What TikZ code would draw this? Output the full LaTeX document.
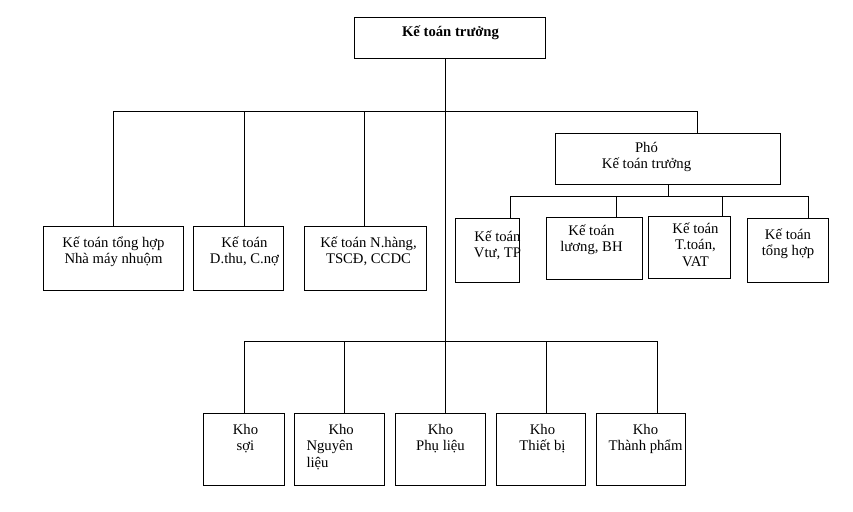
\documentclass[tikz,border=0pt]{standalone}
\usepackage{fontspec}
\setmainfont{Liberation Serif}
\usetikzlibrary{positioning}

\begin{document}
\begin{tikzpicture}[x=1pt,y=-1pt,line width=1pt,
		box/.style 2 args={draw=black,minimum width=#1,minimum height=#2,inner sep=0pt,anchor=north west},
		txt/.style={anchor=base,align=center,inner sep=0pt,font=\fontsize{14.7}{16.7}\selectfont}]
		\useasboundingbox (0,0) rectangle (853,511);
		
		% boxes
		\node[box={191}{41}] (ktt) at (354,17) {};
		\node[box={140}{64}] (nh1) at (43,226) {};
		\node[box={90}{64}] (nh2) at (193,226) {};
		\node[box={122}{64}] (nh3) at (304,226) {};
		\node[box={225}{51}] (pho) at (555,133) {};
		\node[box={64}{64}] (kt1) at (455,218) {};
		\node[box={96}{62}] (kt2) at (546,217) {};
		\node[box={82}{62}] (kt3) at (648,216) {};
		\node[box={81}{64}] (kt4) at (747,218) {};
		\node[box={81}{72}] (kho1) at (203,413) {};
		\node[box={90}{72}] (kho2) at (294,413) {};
		\node[box={90}{72}] (kho3) at (395,413) {};
		\node[box={89}{72}] (kho4) at (496,413) {};
		\node[box={89}{72}] (kho5) at (596,413) {};
		
		% texts (anchor base = last line)
		\node[txt,font=\fontsize{14.7}{16.7}\selectfont\bfseries,shift={(0.5,20)}] (tktt) at (ktt.north) {Kế toán trưởng};
		\node[txt,shift={(0,37.7)}] (tnh1) at (nh1.north) {Kế toán tổng hợp\\Nhà máy nhuộm};
		\node[txt,shift={(6,37.7)}] (tnh2) at (nh2.north) {Kế toán\\D.thu, C.nợ};
		\node[txt,shift={(3,37.7)}] (tnh3) at (nh3.north) {Kế toán N.hàng,\\TSCĐ, CCDC};
		\node[txt,shift={(-21.5,35.7)}] (tpho) at (pho.north) {Phó\\Kế toán trưởng};
		\node[txt,shift={(10,39.7)}] (tkt1) at (kt1.north) {Kế toán\\Vtư, TP};
		\node[txt,shift={(-3,34.7)}] (tkt2) at (kt2.north) {Kế toán\\lương, BH};
		\node[txt,shift={(6,50.4)}] (tkt3) at (kt3.north) {Kế toán\\T.toán,\\VAT};
		\node[txt,shift={(0,37.7)}] (tkt4) at (kt4.north) {Kế toán\\tổng hợp};
		\node[txt,shift={(1.5,37.7)}] (tkho1) at (kho1.north) {Kho\\sợi};
		\node[txt,anchor=base west,align=left,shift={(12,54.4)}] (tkho2) at (kho2.north west) {\hspace*{22pt}Kho\\Nguyên\\liệu};
		\node[txt,shift={(0,37.7)}] (tkho3) at (kho3.north) {Kho\\Phụ liệu};
		\node[txt,shift={(1.5,37.7)}] (tkho4) at (kho4.north) {Kho\\Thiết bị};
		\node[txt,shift={(4.5,37.7)}] (tkho5) at (kho5.north) {Kho\\Thành phẩm};
		
		% trunk
		\coordinate (trunk) at (445,0);
		\draw (ktt.south -| trunk) -- (kho3.north -| trunk);
		
		% first bus
		\foreach \n/\x in {nh1/113,nh2/244,nh3/364,pho/697}
			\coordinate (up-\n) at (\x,111);
		\draw (up-nh1) -- (up-pho);
		\foreach \n in {nh1,nh2,nh3,pho}
			\draw (up-\n) -- (up-\n |- \n.north);
		
		% bus under pho
		\coordinate (jn-pho) at (668,196);
		\draw (pho.south) -- (pho.south |- jn-pho);
		\foreach \n/\x in {kt1/510,kt2/616,kt3/722,kt4/808}
			\coordinate (up-\n) at (\x,196);
		\draw (up-kt1) -- (up-kt4);
		\foreach \n in {kt1,kt2,kt3,kt4}
			\draw (up-\n) -- (up-\n |- \n.north);
		
		% bus over kho
		\foreach \n/\x in {kho1/244,kho2/344,kho3/445,kho4/546,kho5/657}
			\coordinate (up-\n) at (\x,341);
		\draw (up-kho1) -- (up-kho5);
		\foreach \n in {kho1,kho2,kho4,kho5}
			\draw (up-\n) -- (up-\n |- \n.north);
	\end{tikzpicture}
\end{document}
